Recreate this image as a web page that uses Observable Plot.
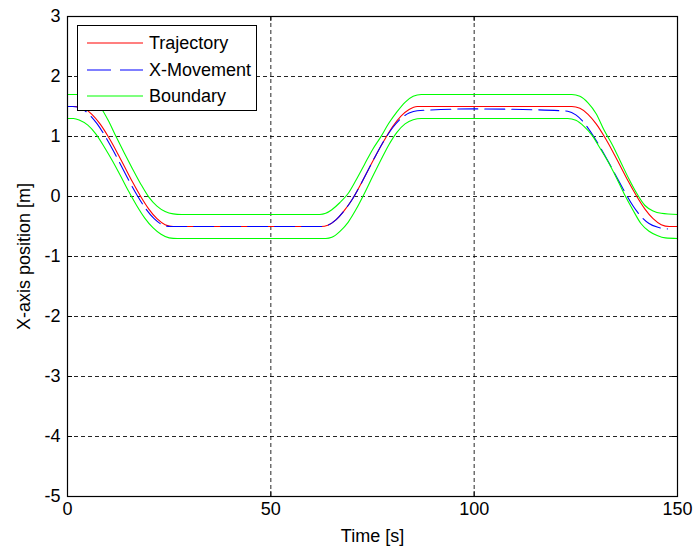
<!DOCTYPE html>
<html>
<head>
<meta charset="utf-8">
<script src="https://cdn.jsdelivr.net/npm/d3@7"></script>
<script src="https://cdn.jsdelivr.net/npm/@observablehq/plot@0.6"></script>
<style>
  html, body { margin: 0; padding: 0; background: #fff; }
  #wrap { position: relative; width: 694px; height: 554px; font-family: "Liberation Sans", Arial, sans-serif; }
  #legend { position: absolute; left: 77px; top: 25px; width: 178px; height: 84px; background: #fff; border: 1px solid #000; font-size: 18px; color: #000; }
  #legend .row { position: absolute; left: 0; height: 20px; display: flex; align-items: center; }
  #legend svg { display: block; margin-left: 9px; margin-right: 6px; }
</style>
</head>
<body>
<div id="wrap"><div id="chart"></div><div id="legend"></div></div>
<script>
// Tick values
const xTicks = [0, 50, 100, 150];
const yTicks = [-5, -4, -3, -2, -1, 0, 1, 2, 3];

// Trajectory (red)
const trajT = [0, 2, 4, 6, 8, 10, 12, 14, 16, 18, 20, 22, 24, 26,
  62.4, 64, 66, 68, 70, 72, 74, 76, 78, 80, 82, 84, 86, 88,
  124, 126, 128, 130, 132, 134, 136, 138, 140, 142, 144, 146, 148, 150];
const trajX = [1.5, 1.5, 1.47, 1.37, 1.21, 1.0, 0.76, 0.5, 0.24, 0.0, -0.21, -0.37, -0.47, -0.5,
  -0.5, -0.48, -0.39, -0.24, -0.05, 0.19, 0.45, 0.71, 0.95, 1.17, 1.34, 1.45, 1.5, 1.5,
  1.5, 1.47, 1.37, 1.21, 1.0, 0.76, 0.5, 0.24, 0.0, -0.21, -0.37, -0.47, -0.5, -0.5];

// X-Movement (blue dashed)
const moveT = [0, 1.3, 3.3, 5.3, 7.3, 9.3, 11.3, 13.3, 15.3, 17.3, 19.3, 21.3, 23.3, 25.3,
  62.4, 64, 66, 68, 70, 72, 74, 76, 78, 80, 82, 84, 86, 100, 112,
  121, 123, 125, 127, 129, 131, 133, 135, 137, 139, 141, 143, 145, 147.5];
const moveX = [1.5, 1.5, 1.47, 1.37, 1.21, 1.0, 0.76, 0.5, 0.24, 0.0, -0.21, -0.37, -0.47, -0.5,
  -0.5, -0.48, -0.39, -0.24, -0.05, 0.19, 0.45, 0.71, 0.95, 1.15, 1.3, 1.39, 1.43, 1.46, 1.45,
  1.43, 1.42, 1.36, 1.23, 1.04, 0.82, 0.58, 0.33, 0.08, -0.15, -0.33, -0.45, -0.51, -0.54];

// Boundary (green), upper and lower
const upperT = [0, 4, 6, 8, 10, 12, 14, 16, 18, 20, 22, 24, 26, 28,
  62, 63.5, 65, 67, 69, 71, 73, 75, 77, 79, 81, 83, 85, 87,
  124, 126, 128, 130, 132, 134, 136, 138, 140, 142, 144, 146, 150];
const upperX = [1.7, 1.7, 1.64, 1.5, 1.27, 0.99, 0.72, 0.46, 0.21, -0.01, -0.16, -0.25, -0.29, -0.3,
  -0.3, -0.28, -0.22, -0.1, 0.05, 0.28, 0.53, 0.78, 0.99, 1.22, 1.41, 1.57, 1.67, 1.7,
  1.7, 1.67, 1.56, 1.38, 1.1, 0.86, 0.58, 0.3, 0.05, -0.15, -0.24, -0.28, -0.3];
const lowerT = [0, 1.5, 3, 5, 7, 9, 11, 13, 15, 17, 19, 21, 23, 25, 27,
  63.5, 65, 67, 69, 71, 73, 75, 77, 79, 81, 83, 85, 87,
  123, 125, 127, 129, 131, 133, 135, 137, 139, 141, 143, 145, 147, 150];
const lowerX = [1.3, 1.3, 1.27, 1.19, 1.04, 0.83, 0.6, 0.35, 0.09, -0.15, -0.36, -0.52, -0.63, -0.69, -0.7,
  -0.7, -0.68, -0.58, -0.43, -0.21, 0.05, 0.33, 0.6, 0.86, 1.07, 1.21, 1.28, 1.3,
  1.3, 1.27, 1.17, 1.02, 0.8, 0.57, 0.31, 0.03, -0.22, -0.45, -0.58, -0.65, -0.69, -0.7];

const seriesNames = ["Trajectory", "X-Movement", "Boundary"];
const seriesColors = ["#ff0000", "#0000ff", "#00ff00"];
const dashPattern = "20,7";

const rows = (ts, vs) => ts.map((t, i) => ({t, v: vs[i]}));
const traj = rows(trajT, trajX);
const move = rows(moveT, moveX);
const upper = rows(upperT, upperX);
const lower = rows(lowerT, lowerX);

const gridStyle = {stroke: "#000", strokeOpacity: 0.85, strokeDasharray: "4,3"};
const frameH = 554 - 16 - 58, frameW = 694 - 67 - 17;
const fmt = d => String(d);

const chart = Plot.plot({
  width: 694, height: 554,
  marginLeft: 67, marginRight: 17, marginTop: 16, marginBottom: 58,
  style: {fontFamily: "'Liberation Sans', Arial, sans-serif", fontSize: "18px", color: "#000", background: "#fff", overflow: "visible"},
  x: {domain: [0, 150]},
  y: {domain: [-5, 3]},
  marks: [
    Plot.gridX({ticks: xTicks, ...gridStyle}),
    Plot.gridY({ticks: yTicks, ...gridStyle}),
    Plot.line(traj, {x: "t", y: "v", stroke: seriesColors[0], strokeWidth: 1.1, curve: "monotone-x"}),
    Plot.line(move, {x: "t", y: "v", stroke: seriesColors[1], strokeWidth: 1.1, strokeDasharray: dashPattern, curve: "monotone-x"}),
    Plot.line(upper, {x: "t", y: "v", stroke: seriesColors[2], strokeWidth: 1.1, curve: "monotone-x"}),
    Plot.line(lower, {x: "t", y: "v", stroke: seriesColors[2], strokeWidth: 1.1, curve: "monotone-x"}),
    Plot.ruleX(xTicks, {x: d => d, insetTop: frameH - 5, stroke: "#000"}),
    Plot.ruleX(xTicks, {x: d => d, insetBottom: frameH - 5, stroke: "#000"}),
    Plot.ruleY(yTicks, {y: d => d, insetRight: frameW - 5, stroke: "#000"}),
    Plot.ruleY(yTicks, {y: d => d, insetLeft: frameW - 5, stroke: "#000"}),
    Plot.axisX({ticks: xTicks, tickFormat: fmt, tickSize: 0, tickPadding: 6, label: "Time [s]", labelAnchor: "center", labelArrow: "none", labelOffset: 45}),
    Plot.axisY({ticks: yTicks, tickFormat: fmt, tickSize: 0, tickPadding: 7, label: "X-axis position [m]", labelAnchor: "center", labelArrow: "none", labelOffset: 50}),
    Plot.frame({stroke: "#000", strokeWidth: 1.2})
  ]
});
document.getElementById("chart").appendChild(chart);

// Legend (inside plot, top-left)
const legend = document.getElementById("legend");
const rowTops = [7, 34, 60];
seriesNames.forEach((name, i) => {
  const row = document.createElement("div");
  row.className = "row";
  row.style.top = rowTops[i] + "px";
  const dash = i === 1 ? ` stroke-dasharray="24,9"` : "";
  row.innerHTML = `<svg width="56" height="4"><line x1="0" y1="2" x2="56" y2="2" stroke="${seriesColors[i]}" stroke-width="1.2"${dash}/></svg><span>${name}</span>`;
  legend.appendChild(row);
});
</script>
</body>
</html>
